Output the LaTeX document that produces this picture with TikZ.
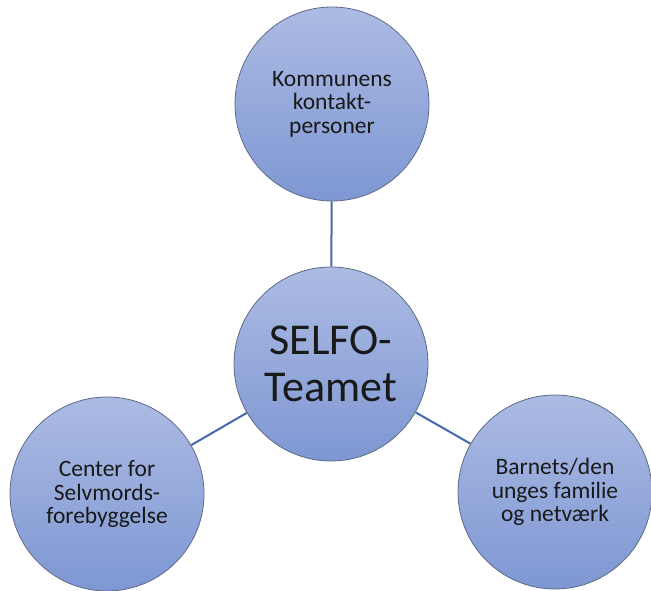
\documentclass[tikz,border=0pt]{standalone}
\usepackage{fontspec}
\setmainfont{Carlito}
\usetikzlibrary{backgrounds}
\definecolor{circtop}{HTML}{ACBBE3}
\definecolor{circbot}{HTML}{7E97D3}
\definecolor{circline}{HTML}{5E6A86}
\definecolor{linkcol}{HTML}{4468AE}
\tikzset{
  bubble/.style={circle, minimum size=194pt, inner sep=0pt, draw=circline, line width=0.8pt,
    top color=circtop, bottom color=circbot, align=center, text=black!90},
  small/.style={font=\fontsize{23.5}{23.5}\selectfont},
  big/.style={font=\fontsize{44}{47}\selectfont},
  link/.style={draw=linkcol, line width=2pt}
}
\begin{document}
\begin{tikzpicture}[x=1pt,y=-1pt]
\useasboundingbox (0,0) rectangle (651,591);
\node[bubble, small] (top) at (332,104) {Kommunens\\kontakt-\\personer};
\node[bubble, big] (mid) at (331,364) {SELFO-\\Teamet};
\node[bubble, small] (left) at (107,494) {Center for\\Selvmords-\\forebyggelse};
\node[bubble, small] (right) at (555,492) {Barnets/den\\unges familie\\og netværk};
\begin{scope}[on background layer]
\draw[link] (mid) -- (top);
\draw[link] (mid) -- (left);
\draw[link] (mid) -- (right);
\end{scope}
\end{tikzpicture}
\end{document}
